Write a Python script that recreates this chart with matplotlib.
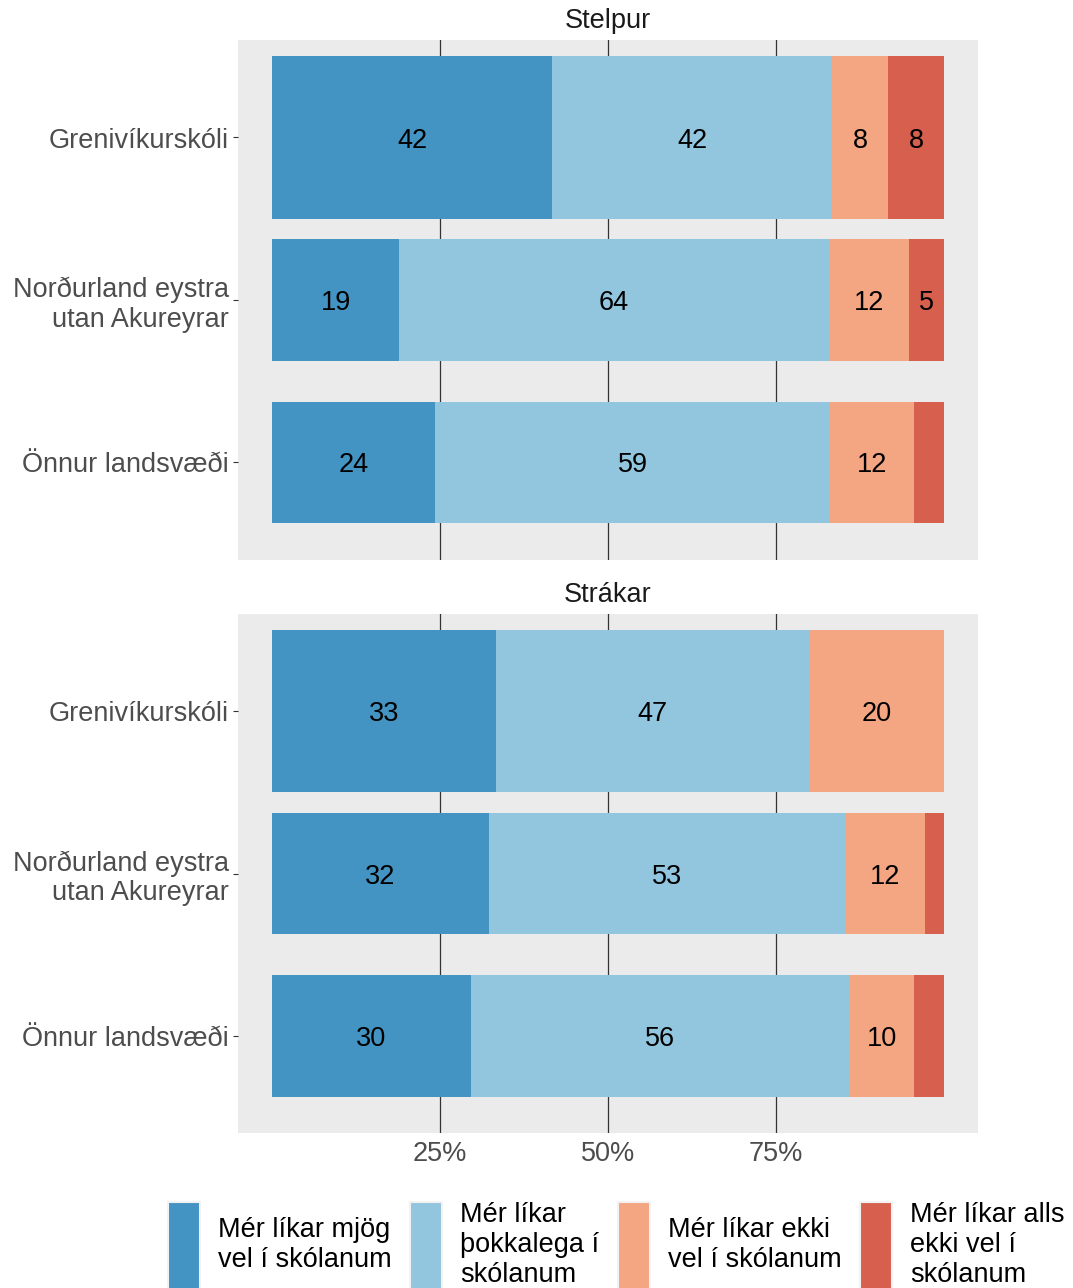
import numpy as np
import matplotlib
matplotlib.use("Agg")
from matplotlib import pyplot as plt
from matplotlib.patches import Rectangle

plt.rcParams['font.family'] = ['Liberation Sans', 'DejaVu Sans']

schools = ["Grenivíkurskóli", "Norðurland eystra\nutan Akureyrar", "Önnur landsvæði"]
genders = ["Stelpur", "Strákar"]
answers = ["Mér líkar mjög\nvel í skólanum", "Mér líkar\nþokkalega í\nskólanum",
           "Mér líkar ekki\nvel í skólanum", "Mér líkar alls\nekki vel í\nskólanum"]
colours = ["#4393C3", "#92C5DE", "#F4A582", "#D6604D"]

# percent per answer, one row per school (top to bottom)
stelpur = [[41.7, 41.7, 8.3, 8.3],
           [18.9, 64.0, 11.9, 5.2],
           [24.2, 58.9, 12.4, 4.5]]
strakar = [[33.3, 46.7, 20.0, 0.0],
           [32.3, 53.1, 11.8, 2.8],
           [29.6, 56.3, 9.7, 4.4]]
bar_width = [1.0, 0.75, 0.75]
x_breaks = [25, 50, 75]

W, H = 1073, 1288
fig = plt.figure(figsize=(W / 100, H / 100), dpi=100)

def box(left, top, right, bottom):
    return [left / W, 1 - bottom / H, (right - left) / W, (bottom - top) / H]

panels = [box(238, 40, 978, 560), box(238, 614, 978, 1133)]
FS = 19.5
LS = 1.18

for gi, (gender, data) in enumerate(zip(genders, [stelpur, strakar])):
    ax = fig.add_axes(panels[gi])
    ax.set_facecolor("#EBEBEB")
    for s in ax.spines.values():
        s.set_visible(False)
    for b in x_breaks:
        ax.axvline(b, color="#333333", lw=0.9, zorder=1)
    data = np.array(data)
    pos = np.arange(1, len(schools) + 1)
    lefts = np.zeros(len(schools))
    for k in range(len(answers)):
        vals = data[:, k]
        ax.barh(pos, vals, left=lefts, height=bar_width, color=colours[k], zorder=2)
        for p, l, v in zip(pos, lefts, vals):
            if v >= 5:
                ax.text(l + v / 2, p, str(int(round(v))), ha="center", va="center_baseline",
                        fontsize=FS, color="black", zorder=3)
        lefts = lefts + vals
    ax.set_xlim(-5.06, 105.06)
    ax.set_ylim(3.6, 0.4)
    ax.set_yticks(pos)
    ax.set_yticklabels(schools, fontsize=FS, color="#4D4D4D")
    for lbl in ax.get_yticklabels():
        lbl.set_linespacing(LS)
    ax.tick_params(axis="y", length=3.5, width=0.8, color="#333333", pad=3)
    ax.set_xticks(x_breaks)
    if gi == 1:
        ax.set_xticklabels([f"{b}%" for b in x_breaks], fontsize=FS, color="#4D4D4D")
    else:
        ax.set_xticklabels([])
    ax.tick_params(axis="x", length=0, pad=6)
    ax.set_title(gender, fontsize=FS, color="#1A1A1A", pad=9)

# legend along the bottom
key_x = [168, 410, 618, 860]
for x0, col, lab in zip(key_x, colours, answers):
    fig.add_artist(Rectangle((x0 / W, 1 - 1290 / H), 32 / W, 88 / H,
                             transform=fig.transFigure, facecolor=col,
                             edgecolor="#F2F2F2", lw=1.5))
    fig.text((x0 + 50) / W, 1 - 1245 / H, lab, ha="left", va="center",
             fontsize=FS, color="black", linespacing=LS)

fig.savefig("out.png", dpi=100)
